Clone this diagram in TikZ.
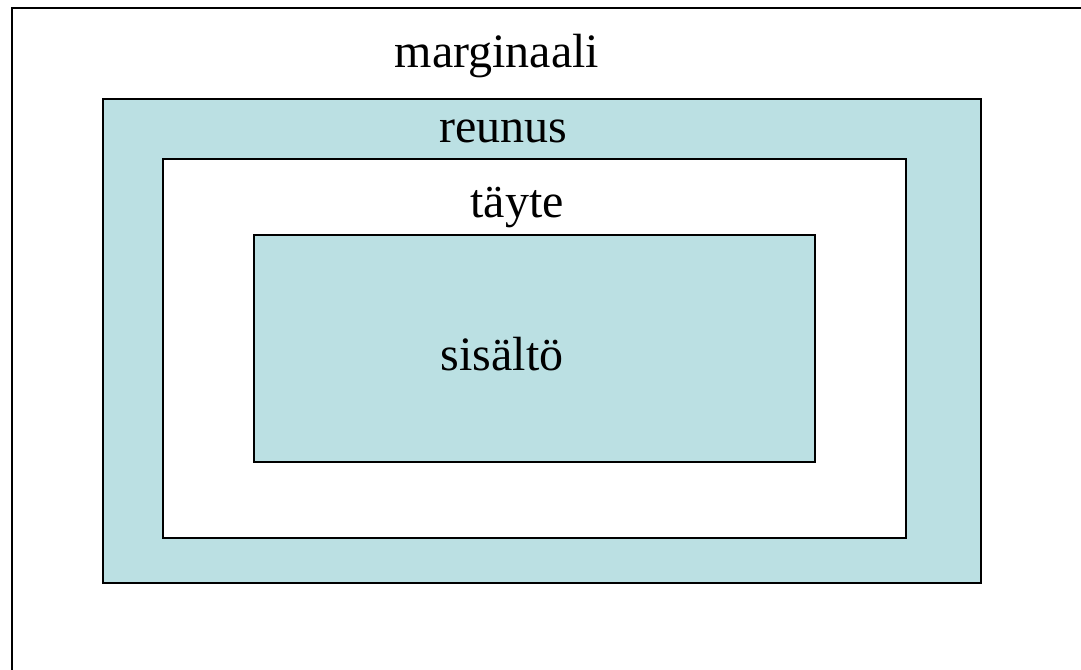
\documentclass[tikz,border=0pt]{standalone}
\usepackage{fontspec}
\setmainfont{Liberation Serif}
\definecolor{boxfill}{RGB}{187,224,227}
\begin{document}
\begin{tikzpicture}[x=1pt,y=-1pt,
  frame/.style={draw=black,line width=1.6pt},
  lbl/.style={anchor=base,inner sep=0pt,font=\fontsize{48}{54}\selectfont}]
\useasboundingbox (0,0) rectangle (1081,669);
\draw[frame] (12,670) -- (12,8) -- (1082,8);
\path[frame,fill=boxfill] (103,99) rectangle (981,583);
\path[frame,fill=white] (163,159) rectangle (906,538);
\path[frame,fill=boxfill] (254,235) rectangle (815,462);
\node[lbl] (marg) at (497,67) {marginaali};
\node[lbl] (reun) at (503,142) {reunus};
\node[lbl] (tayt) at (517,217) {täyte};
\node[lbl] (sisa) at (502,370) {sisältö};
\end{tikzpicture}
\end{document}
